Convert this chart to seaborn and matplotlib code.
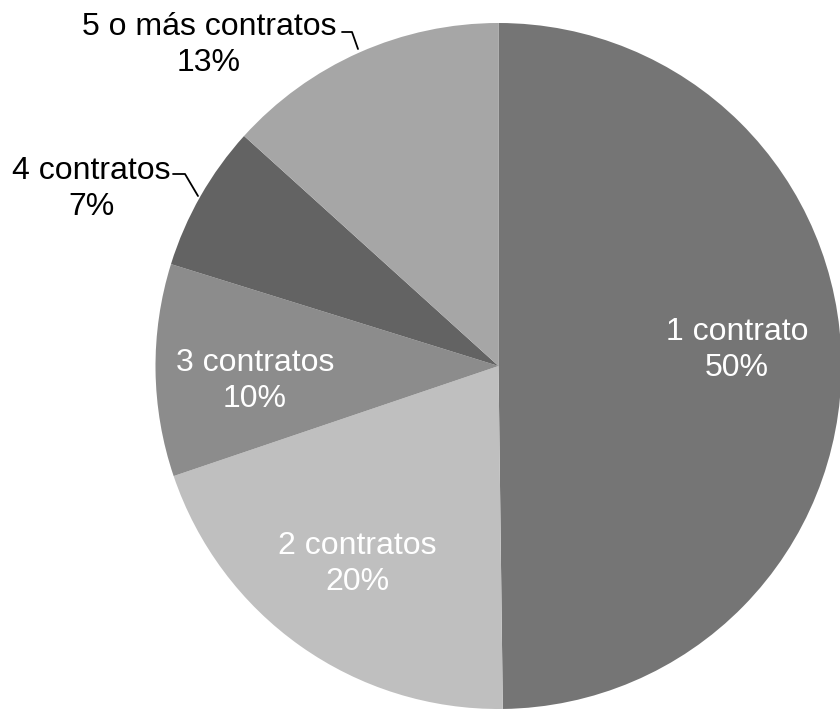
import matplotlib
matplotlib.use("Agg")
import matplotlib.pyplot as plt
import seaborn as sns

# datos (porcentaje de empresas por número de contratos)
categorias = ["1 contrato", "2 contratos", "3 contratos", "4 contratos", "5 o más contratos"]
valores = [49.8, 20.0, 10.0, 6.9, 13.3]
etiquetas_pct = ["50%", "20%", "10%", "7%", "13%"]
colores = ["#757575", "#bfbfbf", "#8c8c8c", "#636363", "#a6a6a6"]

sns.set_theme(style="white")
plt.rcParams['font.family'] = ['Liberation Sans', 'DejaVu Sans']

W, H = 840, 711
fig = plt.figure(figsize=(W / 100, H / 100), dpi=100)
ax = fig.add_axes([0, 0, 1, 1])

cx, cy, r = 498.5, H - 366, 343
ax.pie(valores, colors=colores, startangle=90, counterclock=False,
       center=(cx, cy), radius=r, wedgeprops=dict(linewidth=0))

ax.set_xlim(0, W)
ax.set_ylim(0, H)
ax.set_aspect("equal")
ax.axis("off")

fs = 23
ls = 1.3
# etiquetas dentro del pastel (blanco)
dentro = {0: (737, 350), 1: (357, 564), 2: (255, 381)}
for i, (x, y) in dentro.items():
    ax.text(x, H - y, f"{categorias[i]}\n{etiquetas_pct[i]}", color="white",
            fontsize=fs, ha="center", va="center", linespacing=ls)

# etiquetas fuera con líneas guía (negro)
fuera = {3: ((91, 189), [(173, 174), (185, 174), (198, 196)]),
         4: ((209, 45), [(342, 32), (352, 32), (358, 49)])}
for i, ((x, y), guia) in fuera.items():
    ax.text(x, H - y, f"{categorias[i]}\n{etiquetas_pct[i]}", color="black",
            fontsize=fs, ha="center", va="center", linespacing=ls)
    ax.plot([p[0] for p in guia], [H - p[1] for p in guia], color="black", lw=1.3)

fig.savefig("out.png", dpi=100, facecolor="white")
